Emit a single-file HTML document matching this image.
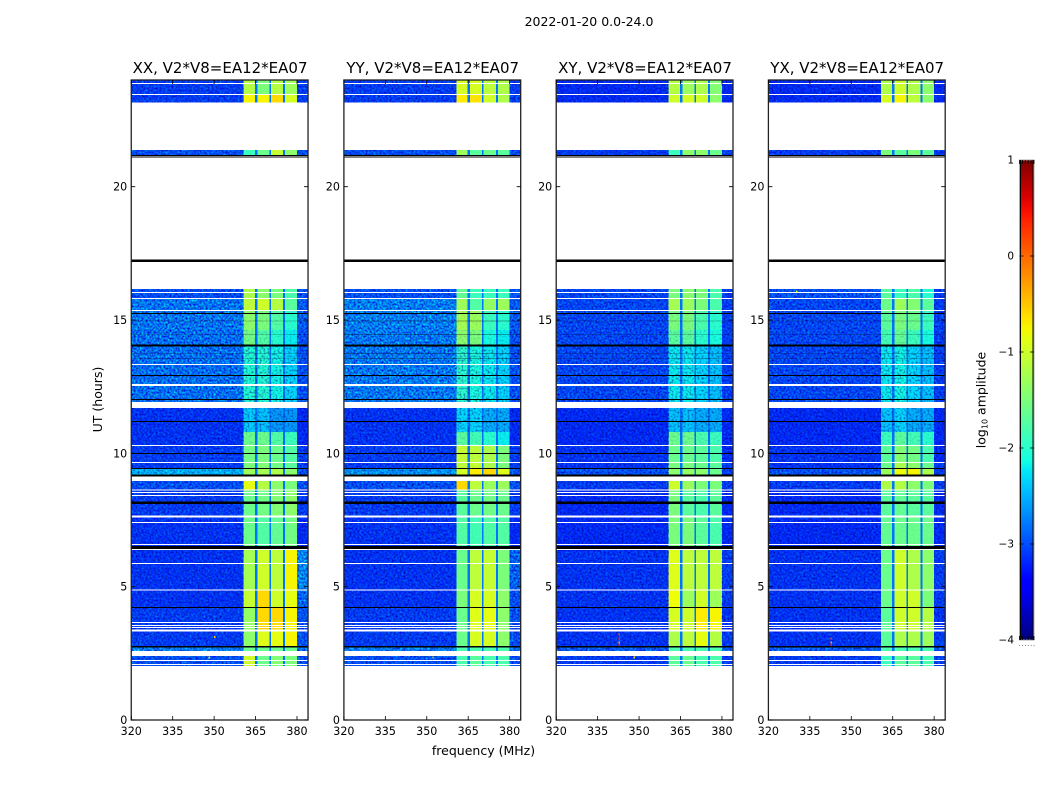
<!DOCTYPE html>
<html>
<head>
<meta charset="utf-8">
<title>2022-01-20 0.0-24.0</title>
<style>
html,body{margin:0;padding:0;background:#fff;}
svg{display:block;font-family:"DejaVu Sans","Liberation Sans",sans-serif;}
text{fill:#000;}
</style>
</head>
<body>
<svg id="fig" xmlns="http://www.w3.org/2000/svg" width="1050" height="800" viewBox="0 0 1050 800">
  <defs>
    <filter id="grain" x="0" y="0" width="100%" height="100%" color-interpolation-filters="sRGB">
      <feTurbulence type="fractalNoise" baseFrequency="0.5" numOctaves="2" seed="7"/>
      <feColorMatrix values="1.4 0 0 0 -0.2  1.4 0 0 0 -0.2  1.4 0 0 0 -0.2  0 0 0 0 1"/>
    </filter>
    <filter id="specks" x="0" y="0" width="100%" height="100%" color-interpolation-filters="sRGB">
      <feTurbulence type="fractalNoise" baseFrequency="0.5" numOctaves="2" seed="23"/>
      <feColorMatrix values="0 0 0 0 0  0 0 0 0 0  0 0 0 0 0.45  1.5 0 0 0 -0.68"/>
    </filter>
    <linearGradient id="jet-gradient" x1="0" y1="1" x2="0" y2="0"></linearGradient>
  </defs>
  <rect width="1050" height="800" fill="#fff"/>
  <text x="589" y="26" font-size="12.5" text-anchor="middle">2022-01-20 0.0-24.0</text>
  <text x="483.5" y="755" font-size="12.5" text-anchor="middle">frequency (MHz)</text>
  <text x="0" y="0" font-size="12.5" text-anchor="middle" transform="translate(102,399.5) rotate(-90)">UT (hours)</text>
  <text x="0" y="0" font-size="12.5" text-anchor="middle" transform="translate(985.5,400) rotate(-90)">log<tspan font-size="8" dy="2">10</tspan><tspan dy="-2"> amplitude</tspan></text>
  <g id="panels"></g>
  <g id="colorbar"></g>
</svg>
<script>
// ---- chart data ----
const panelTitles = ['XX, V2*V8=EA12*EA07', 'YY, V2*V8=EA12*EA07', 'XY, V2*V8=EA12*EA07', 'YX, V2*V8=EA12*EA07'];
const freqTicks = [320, 335, 350, 365, 380];
const hourTicks = [0, 5, 10, 15, 20];
const colorTicks = [1, 0, -1, -2, -3, -4];
const colorTickLabels = ['1', '0', '\u22121', '\u22122', '\u22123', '\u22124'];

// Frequency columns in MHz: background, four bands, background
const columnStart = [320, 360.7, 365.7, 370.6, 375.7, 380];
const columnEnd = [360.7, 364.8, 370.05, 375, 380, 384];
// Band-gap notches (MHz) and their log10 amplitude
const gapStart = [364.8, 370.05, 375];
const gapEnd = [365.7, 370.6, 375.7];
const gapLevel = [-2.8, -2.8, -2.8];

// Observing scans, hours UT
const scanStart = [24, 23.475, 21.375, 16.16, 15.825, 15.375, 14.625, 14.06, 11.7, 10.8, 10.31, 9.675, 9.45, 8.96, 8.625, 7.65, 6.525, 4.875, 4.24, 3.34, 2.74, 2.4];
const scanEnd = [23.475, 23.156, 21.19, 15.825, 15.375, 14.625, 14.06, 11.925, 10.8, 10.31, 9.675, 9.45, 9.15, 8.625, 7.65, 6.525, 4.875, 4.24, 3.34, 2.74, 2.59, 2.025];
// How speckled each scan looks inside the bands (0 = smooth, 1 = very noisy)
const bandNoise = [0, 0, 0, 0.1, 0.05, 0.2, 0.35, 1, 1, 0.3, 0.1, 0.1, 0.05, 0.05, 0.1, 0.1, 0, 0, 0, 0, 0, 0];

// log10 amplitude per scan: [background, band1, band2, band3, band4, right background]
const levelsXX = [
  [-3.05,-1.15,-1.5,-1.15,-1.3,-3.05],[-3.05,-0.75,-0.75,-0.6,-0.95,-3.05],[-2.95,-1.9,-1.6,-1.05,-1.4,-2.95],
  [-2.95,-1.2,-1.4,-1.5,-1.8,-2.95],[-2.75,-1.1,-1.0,-1.15,-1.7,-2.9],[-2.75,-1.4,-1.5,-1.75,-2.0,-2.9],
  [-2.78,-1.55,-1.75,-2.0,-2.2,-2.95],[-2.78,-2.05,-2.05,-2.15,-2.3,-2.95],[-3.1,-2.35,-2.4,-2.6,-2.6,-3.15],
  [-3.1,-1.6,-1.6,-1.75,-1.9,-3.15],[-3.05,-1.55,-1.5,-1.6,-1.75,-3.05],[-3.05,-1.5,-1.45,-1.55,-1.7,-3.05],
  [-2.45,-1.3,-1.25,-1.2,-1.4,-2.95],
  [-2.95,-0.85,-1.15,-1.4,-1.5,-2.95],[-3.05,-1.6,-1.55,-1.45,-1.4,-3.05],[-3.1,-1.6,-1.75,-1.65,-1.55,-3.15],
  [-3.1,-1.25,-1.0,-1.1,-0.75,-2.65],[-3.1,-1.05,-0.6,-1.0,-0.85,-2.85],[-3.05,-1.35,-0.6,-0.6,-0.75,-2.95],
  [-3.05,-1.4,-0.9,-0.85,-0.75,-2.95],[-2.7,-1.6,-1.6,-1.6,-1.6,-2.8],[-2.95,-1.0,-1.6,-1.45,-1.5,-2.95]
];
const levelsYY = [
  [-3.05,-0.95,-0.95,-1.1,-1.2,-3.05],[-3.05,-0.7,-0.65,-1.0,-1.2,-3.05],[-2.95,-1.3,-1.7,-1.6,-1.7,-2.95],
  [-2.95,-1.65,-1.9,-1.9,-1.9,-2.95],[-2.7,-1.3,-1.75,-1.35,-1.3,-2.9],[-2.7,-1.25,-1.3,-1.9,-2.0,-2.9],
  [-2.73,-1.4,-1.5,-2.1,-2.2,-2.95],[-2.73,-2.0,-2.1,-2.2,-2.3,-2.95],[-3.1,-2.3,-2.3,-2.5,-2.5,-3.15],
  [-3.1,-1.7,-1.85,-2.0,-2.2,-3.15],[-3.05,-1.05,-1.1,-1.2,-1.5,-3.05],[-3.05,-1.1,-1.05,-1.2,-1.5,-3.05],
  [-2.6,-0.95,-0.7,-0.6,-0.9,-2.95],
  [-2.95,-0.6,-1.1,-1.3,-1.3,-2.95],[-3.05,-1.7,-1.6,-1.55,-1.6,-3.05],[-3.1,-1.75,-1.85,-1.75,-1.75,-3.15],
  [-3.1,-1.6,-1.1,-1.05,-1.5,-2.85],[-3.1,-1.5,-0.95,-0.95,-1.4,-2.95],[-3.05,-1.6,-0.9,-0.85,-1.4,-2.95],
  [-3.05,-1.6,-0.95,-0.95,-1.4,-2.95],[-2.7,-1.8,-1.8,-1.8,-1.8,-2.8],[-2.95,-1.8,-1.7,-1.8,-1.8,-2.95]
];
const levelsXY = [
  [-3.15,-1.15,-1.3,-1.2,-1.45,-3.15],[-3.15,-1.0,-0.95,-1.0,-1.4,-3.15],[-3.05,-1.9,-1.4,-1.4,-1.6,-3.05],
  [-3.0,-1.5,-1.4,-1.5,-1.8,-3.05],[-3.0,-1.25,-1.3,-1.5,-1.8,-3.05],[-3.0,-1.5,-1.5,-1.8,-2.0,-3.05],
  [-3.0,-1.7,-1.7,-2.0,-2.1,-3.05],[-3.0,-2.2,-2.2,-2.3,-2.4,-3.05],[-3.15,-2.4,-2.4,-2.5,-2.5,-3.15],
  [-3.15,-1.6,-1.6,-1.8,-1.9,-3.15],[-3.1,-1.6,-1.6,-1.7,-1.8,-3.15],[-3.1,-1.5,-1.5,-1.6,-1.7,-3.05],
  [-2.95,-1.4,-1.35,-1.4,-1.6,-3.05],
  [-3.05,-1.0,-1.3,-1.5,-1.5,-3.05],[-3.15,-1.5,-1.7,-1.8,-1.7,-3.15],[-3.15,-1.5,-1.5,-1.7,-1.8,-3.15],
  [-3.1,-0.9,-1.1,-1.1,-1.1,-3.05],[-3.1,-0.8,-1.3,-1.0,-1.3,-3.05],[-3.1,-0.95,-1.0,-0.7,-0.75,-3.1],
  [-3.1,-1.2,-1.1,-0.85,-1.15,-3.05],[-2.9,-1.8,-1.8,-1.8,-1.8,-2.9],[-3.05,-1.7,-1.6,-1.8,-1.8,-3.05]
];
const levelsYX = [
  [-3.15,-1.2,-1.0,-1.2,-1.4,-3.15],[-3.15,-0.95,-0.75,-1.1,-1.4,-3.15],[-3.05,-1.5,-1.7,-1.5,-1.7,-3.05],
  [-2.95,-1.7,-1.9,-1.8,-2.0,-3.05],[-3.0,-1.6,-1.3,-1.45,-1.7,-3.05],[-3.0,-1.7,-1.5,-1.6,-1.9,-3.05],
  [-3.0,-1.85,-1.65,-1.9,-2.1,-3.05],[-3.0,-2.2,-2.15,-2.3,-2.4,-3.05],[-3.15,-2.4,-2.3,-2.5,-2.5,-3.15],
  [-3.15,-1.9,-1.7,-1.85,-2.0,-3.15],[-3.1,-1.7,-1.45,-1.55,-1.8,-3.15],[-3.1,-1.6,-1.2,-1.4,-1.6,-3.05],
  [-2.95,-1.3,-0.8,-0.75,-1.2,-3.05],
  [-3.05,-1.2,-1.15,-1.4,-1.5,-3.05],[-3.15,-1.7,-1.65,-1.7,-1.7,-3.15],[-3.15,-1.65,-1.6,-1.6,-1.6,-3.15],
  [-3.1,-1.6,-1.0,-1.2,-1.4,-3.05],[-3.1,-1.6,-1.0,-1.0,-1.5,-3.05],[-3.1,-1.7,-1.0,-1.0,-1.15,-3.1],
  [-3.1,-1.7,-1.2,-1.2,-1.3,-3.05],[-2.9,-1.8,-1.8,-1.8,-1.8,-2.9],[-3.05,-1.9,-1.7,-1.7,-1.8,-3.05]
];
const panelLevels = [levelsXX, levelsYY, levelsXY, levelsYX];

// Flagged times in hours UT: centre and duration
const blankCentre = [23.876,23.464,16.039,15.814,15.364,13.339,12.5625,11.8125,10.301,9.664,9.0375,8.625,8.539,8.426,7.624,7.414,6.589,6.401,5.876,4.875,3.649,3.551,3.476,3.364,2.494,2.239,2.089];
const blankHours = [0.0375,0.0375,0.0375,0.0375,0.0375,0.0375,0.075,0.225,0.0375,0.0375,0.075,0.0375,0.0375,0.0375,0.075,0.0375,0.0375,0.0375,0.0375,0.0375,0.0375,0.0375,0.0375,0.075,0.1875,0.0375,0.0375];
const zeroCentre = [21.176,21.12,17.224,15.251,14.051,12.926,12.011,11.201,10.001,9.439,9.169,8.149,6.476,4.226,2.749];
const zeroHours = [0.0375,0.0375,0.08,0.0375,0.075,0.0375,0.0375,0.0375,0.0375,0.0375,0.075,0.09,0.11,0.0375,0.06];
const faintHours = [14.98,14.48,13.76,13.57];

// Isolated RFI samples: panel index, MHz, hour, log10 amplitude
const spikePanel = [2,2,2,2,3,3,3,0,0,1,2,3];
const spikeFreq = [342.5,342.5,342.5,342.5,342.5,342.5,342.5,348,350,352,348,330];
const spikeHour = [3.1,2.95,3.25,2.85,3.1,2.95,2.85,2.38,3.15,2.38,2.38,16.1];
const spikeLevel = [0.3,-0.4,0.2,0.4,0.3,-0.4,0.4,-0.7,-0.5,-0.8,-0.6,-0.9];

// ---- geometry ----
const panelLeft = [131.25, 343.9, 556.2, 768.4];
const panelWidth = 176.8;
const plotTop = 80, plotBottom = 720;
const cbLeft = 1019.5, cbRight = 1034, cbTop = 160, cbBottom = 640;
const NS = 'http://www.w3.org/2000/svg';

const xScale = (left, mhz) => left + (mhz - 320) / 64 * panelWidth;
const yScale = h => plotBottom - h / 24 * (plotBottom - plotTop);
const cbScale = v => cbBottom - (v + 4) / 5 * (cbBottom - cbTop);

function ramp(t, pts) {
  for (let i = 1; i < pts.length; i++) {
    if (t <= pts[i][0]) {
      const a = pts[i - 1], b = pts[i];
      return a[1] + (b[1] - a[1]) * (t - a[0]) / (b[0] - a[0]);
    }
  }
  return pts[pts.length - 1][1];
}
function jet(t) {
  t = Math.max(0, Math.min(1, t));
  const r = ramp(t, [[0,0],[0.35,0],[0.66,1],[0.89,1],[1,0.5]]);
  const g = ramp(t, [[0,0],[0.125,0],[0.375,1],[0.64,1],[0.91,0],[1,0]]);
  const b = ramp(t, [[0,0.5],[0.11,1],[0.34,1],[0.65,0],[1,0]]);
  return 'rgb(' + Math.round(r * 255) + ',' + Math.round(g * 255) + ',' + Math.round(b * 255) + ')';
}
const colorOf = v => jet((v + 4) / 5);

function make(tag, parent, attrs) {
  const el = document.createElementNS(NS, tag);
  for (const k in attrs) el.setAttribute(k, attrs[k]);
  parent.appendChild(el);
  return el;
}

const panels = document.getElementById('panels');
panelTitles.forEach((title, p) => {
  const left = panelLeft[p];
  const levels = panelLevels[p];

  const g = make('g', panels, {});
  
  

  const heat = make('g', g, {'shape-rendering': 'crispEdges'});
  
  

  scanStart.forEach((start, s) => {
    const y0 = yScale(start), y1 = yScale(scanEnd[s]);
    columnStart.forEach((c0, c) => {
      const x0 = xScale(left, c0), x1 = xScale(left, columnEnd[c]);
      const cell = make('rect', heat, {x: x0, y: y0, width: x1 - x0, height: y1 - y0, fill: colorOf(levels[s][c])});
      
      
    });
    gapStart.forEach((g0, c) => {
      const x0 = xScale(left, g0), x1 = xScale(left, gapEnd[c]);
      const notch = make('rect', heat, {x: x0, y: y0, width: x1 - x0, height: y1 - y0, fill: colorOf(gapLevel[c])});
      
      
    });
  });

  // noise texture: background strips at full strength, bands scan by scan
  const bandLeft = xScale(left, columnEnd[0]);
  const bandRight = xScale(left, columnEnd[4]);
  const stripX = [left, bandRight];
  const stripW = [bandLeft - left, left + panelWidth - bandRight];
  stripX.forEach((sx, k) => {
    const t1 = make('rect', g, {x: sx, y: plotTop, width: stripW[k], height: plotBottom - plotTop, filter: 'url(#grain)', style: 'mix-blend-mode:overlay'});
    
    
    const t2 = make('rect', g, {x: sx, y: plotTop, width: stripW[k], height: plotBottom - plotTop, filter: 'url(#specks)'});
    
    
  });
  bandNoise.forEach((amount, s) => {
    if (amount <= 0) return;
    const y0 = yScale(scanStart[s]), y1 = yScale(scanEnd[s]);
    const t3 = make('rect', g, {x: bandLeft, y: y0, width: bandRight - bandLeft, height: y1 - y0, filter: 'url(#specks)', opacity: amount});
    
    
  });

  const flags = make('g', g, {'shape-rendering': 'crispEdges'});
  
  

  // cover the areas with no data
  scanEnd.forEach((end, s) => {
    if (s + 1 < scanStart.length && scanStart[s + 1] < end) {
      const gap = make('rect', flags, {x: left, y: yScale(end), width: panelWidth, height: yScale(scanStart[s + 1]) - yScale(end), fill: '#fff'});
      
      
    }
  });
  const tail = make('rect', flags, {x: left, y: yScale(scanEnd[scanEnd.length - 1]), width: panelWidth, height: plotBottom - yScale(scanEnd[scanEnd.length - 1]), fill: '#fff'});
  
  

  faintHours.forEach(h => {
    const line = make('rect', flags, {x: left, y: yScale(h), width: panelWidth, height: 1, fill: '#001', opacity: p === 1 ? 0.35 : 0.2});
    
    
  });
  blankCentre.forEach((h, i) => {
    const y0 = yScale(h + blankHours[i] / 2), y1 = yScale(h - blankHours[i] / 2);
    const row = make('rect', flags, {x: left, y: y0, width: panelWidth, height: y1 - y0, fill: '#fff'});
    
    
  });
  zeroCentre.forEach((h, i) => {
    const y0 = yScale(h + zeroHours[i] / 2), y1 = yScale(h - zeroHours[i] / 2);
    const row = make('rect', flags, {x: left, y: y0, width: panelWidth, height: y1 - y0, fill: '#000'});
    
    
  });
  spikeFreq.forEach((f, i) => {
    if (spikePanel[i] !== p) return;
    const dot = make('rect', flags, {x: xScale(left, f), y: yScale(spikeHour[i]), width: 1.4, height: 2, fill: colorOf(spikeLevel[i])});
    
    
  });

  const frame = make('rect', g, {x: left, y: plotTop, width: panelWidth, height: plotBottom - plotTop, fill: 'none', stroke: '#222', 'stroke-width': 1.3});
  
  

  const ttl = make('text', g, {x: left + panelWidth / 2 + 0.4, y: 73, 'font-size': 15, 'text-anchor': 'middle'});
  ttl.textContent = title;
  
  

  freqTicks.forEach(f => {
    const x = xScale(left, f);
    const d = 'M' + x + ' ' + plotBottom + 'V' + (plotBottom - 4) + 'M' + x + ' ' + plotTop + 'V' + (plotTop + 4);
    const tick = make('path', g, {d: d, stroke: '#000', 'stroke-width': 0.8, fill: 'none'});
    
    
    const lab = make('text', g, {x: x, y: 735, 'font-size': 11.1, 'text-anchor': 'middle'});
    lab.textContent = String(f);
    
    
  });
  hourTicks.forEach(h => {
    const y = yScale(h);
    const right = left + panelWidth;
    const d = 'M' + left + ' ' + y + 'H' + (left + 4) + 'M' + right + ' ' + y + 'H' + (right - 4);
    const tick = make('path', g, {d: d, stroke: '#000', 'stroke-width': 0.8, fill: 'none'});
    
    
    const lab = make('text', g, {x: left - 4, y: y + 4, 'font-size': 11.1, 'text-anchor': 'end'});
    lab.textContent = String(h);
    
    
  });
});

// ---- colorbar ----
const gradient = document.getElementById('jet-gradient');
for (let i = 0; i <= 40; i++) {
  const stop = make('stop', gradient, {offset: i / 40, 'stop-color': jet(i / 40)});
}
const cb = document.getElementById('colorbar');
const cbFill = make('rect', cb, {x: cbLeft, y: cbTop, width: cbRight - cbLeft, height: cbBottom - cbTop, fill: 'url(#jet-gradient)', stroke: '#aaa', 'stroke-width': 1});


const cbEdges = make('path', cb, {d: 'M' + (cbLeft + 1) + ' ' + cbTop + 'V' + cbBottom + 'M' + (cbRight - 1) + ' ' + cbTop + 'V' + cbBottom, stroke: '#000', 'stroke-width': 1, fill: 'none'});


colorTicks.forEach((v, i) => {
  const y = cbScale(v);
  if (v !== 1 && v !== -4) {
    const tick = make('path', cb, {d: 'M' + cbLeft + ' ' + y + 'h4M' + cbRight + ' ' + y + 'h-4', stroke: '#000', 'stroke-width': 0.8, fill: 'none'});
    
    
  }
  const lab = make('text', cb, {x: 1014, y: y + 3.5, 'font-size': 10.5, 'text-anchor': 'end'});
  lab.textContent = colorTickLabels[i];
  
  
});
[0, 1, 2, 3, 4, 5].forEach(k => {
  const x = cbLeft + k * (cbRight - cbLeft) / 5;
  const minor = make('path', cb, {d: 'M' + x + ' ' + cbTop + 'v4M' + x + ' ' + cbBottom + 'v-4', stroke: '#000', 'stroke-width': 0.8, fill: 'none'});
  
  
  const dot = make('rect', cb, {x: x - 0.4, y: 645, width: 0.9, height: 1, fill: '#777'});
  
  
});
</script>
</body>
</html>
